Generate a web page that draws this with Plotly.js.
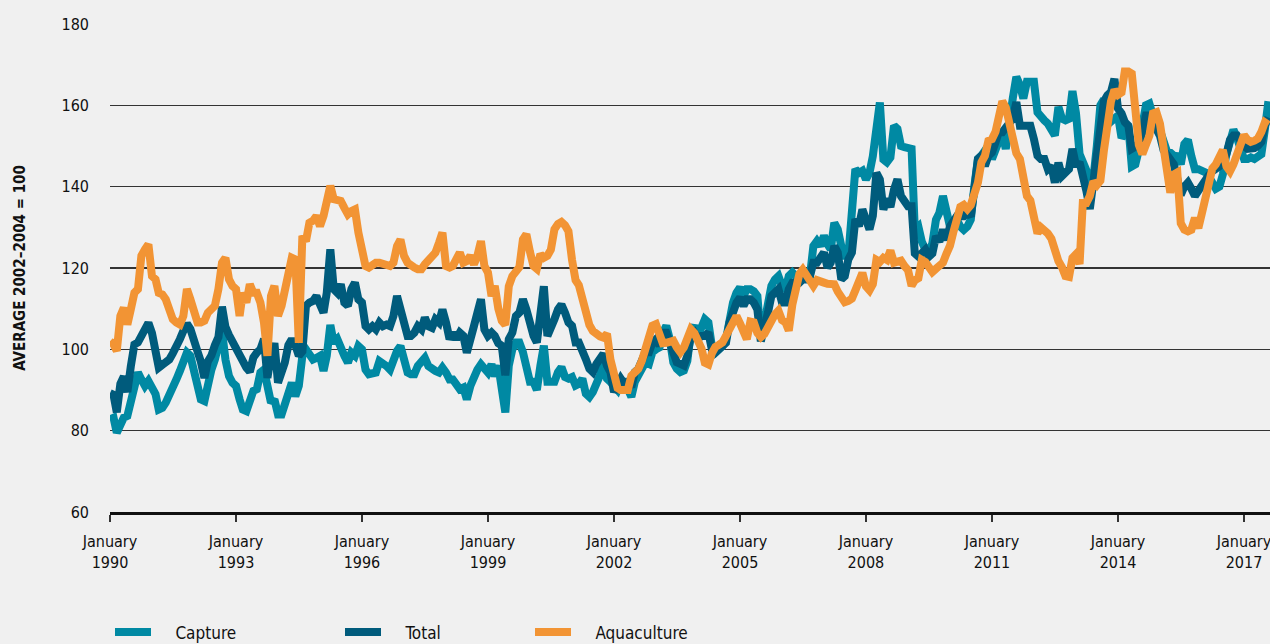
<!DOCTYPE html>
<html>
<head>
<meta charset="utf-8">
<script src="https://cdn.plot.ly/plotly-3.0.1.min.js"></script>
<style>
  html, body { margin: 0; padding: 0; background: #f0f0f0; }
  #plot { width: 1270px; height: 644px; }
</style>
</head>
<body>
<div id="plot"></div>
<script>
// monthly index values, January 1990 to August 2017
var startYear = 1990;

var capture = [
  82.8, 83.2, 79.5, 82, 83.2, 83.6, 86.9, 90.2, 94.3, 92.6, 91, 92.2,          // 1990
  90.2, 89, 85.2, 85.6, 86.9, 88.5, 90.6, 92.6, 94.7, 97.5, 99.2, 98.4,        // 1991
  95, 90.2, 87.7, 87.3, 91.8, 95, 97.5, 100.8, 104.5, 97.5, 93.4, 91.8,        // 1992
  91, 87.7, 85.2, 84.8, 86.9, 89.8, 90.2, 94.3, 95, 90.2, 86.9, 87.7,          // 1993
  84, 84, 86.9, 90.2, 91.8, 88.5, 91, 98.4, 100, 98.8, 97.5, 97.9,             // 1994
  98.4, 94.7, 98.4, 106, 101.6, 102.5, 100, 98.4, 96.7, 99.2, 98.4, 100.8,     // 1995
  100, 95, 93.9, 94.3, 94.3, 97.1, 96.7, 95.9, 95, 97.5, 99.6, 100.8,          // 1996
  97.1, 94.3, 93.9, 93.9, 95.9, 97.1, 97.9, 95.9, 95, 94.7, 94.3, 95.5,        // 1997
  94.3, 92.6, 92.6, 91.4, 90.2, 90.6, 87.7, 91, 93.4, 95, 96.3, 95,            // 1998
  94.3, 96.3, 93.4, 96, 90, 84.5, 96, 100, 101.7, 101.7, 99.3, 96,             // 1999
  92, 92, 90, 96, 100.9, 92, 92, 92, 94.4, 95.6, 93.2, 92.8,                   // 2000
  93.2, 91.1, 91.5, 92.8, 89.1, 88.3, 89.5, 91.1, 93.6, 96.8, 92.8, 92,        // 2001
  91.1, 90, 92, 92, 90.3, 88.3, 92, 93.6, 95.2, 96.8, 96.4, 99.3,              // 2002
  100, 100.5, 104, 105.8, 102.5, 96.8, 95.2, 94.4, 94.8, 97.2, 104.5, 105.8,   // 2003
  103.3, 105.7, 107.4, 106.6, 100.8, 99.2, 100, 100.8, 102.5, 108.2, 111.5, 113.9, // 2004
  115.2, 113.1, 114.8, 114.8, 114.3, 113.1, 102.9, 106.6, 111.5, 115.6, 117.2, 118, // 2005
  115.6, 114.8, 118, 118.9, 118, 116.8, 118, 118, 118, 125.4, 126.6, 125.4,    // 2006
  127.9, 125.8, 124.6, 131.1, 129.5, 125.4, 123, 123, 133.6, 144.3, 143.4, 143.9, // 2007
  141.8, 143.4, 147.5, 156.6, 160.7, 146.7, 146, 147.2, 155, 154.2, 150, 149.7, // 2008
  149.7, 149.3, 129.4, 130.2, 126.5, 124.5, 124, 126.1, 131.9, 133.6, 137.7, 134.4, // 2009
  130.2, 131.1, 131.9, 130.2, 129.4, 130.2, 131.9, 140.2, 146.8, 147.6, 149.3, 150.1, // 2010
  146.8, 149.3, 152.1, 153.4, 149.3, 154.2, 161.7, 167, 165, 161.7, 165.8, 165.8, // 2011
  165.8, 158.3, 157.1, 156.3, 155.5, 153.4, 152.6, 159.6, 156.7, 156.3, 156.7, 163.5, // 2012
  158, 148, 146, 144, 139, 142, 150, 160, 161.5, 157.5, 156, 157,              // 2013
  157.5, 152, 153, 155, 145, 145.5, 149, 155, 160, 160.4, 157.5, 156.5,        // 2014
  154, 152, 148.8, 148.4, 147.6, 147.5, 145.5, 150.5, 151.5, 147.5, 144.3, 144.3, // 2015
  144, 143.5, 142.5, 141, 139.5, 140, 143, 148, 152, 154, 152, 150,            // 2016
  146.8, 146.8, 147.2, 146.8, 147.5, 148, 154, 161                             // 2017
];

var total = [
  89.2, 88.8, 84.5, 91.5, 93.3, 89.5, 95.8, 101.2, 101.7, 103.3, 104.6, 106.5, // 1990
  104, 98.5, 95.5, 96.2, 96.8, 97.5, 99, 100.5, 102.5, 104.5, 106.3, 105,      // 1991
  101.5, 99.5, 97, 93, 97, 98.5, 101, 103, 110.5, 105.5, 103.5, 101.8,         // 1992
  100.5, 98.2, 97.2, 95.5, 94.5, 98, 99.2, 100, 102.5, 93, 98.5, 101.5,        // 1993
  91.8, 94, 96.7, 101, 102.5, 101, 98.4, 99.5, 110.7, 111.5, 111.9, 113.1,     // 1994
  111.5, 109, 113.9, 124.6, 114.8, 113.9, 116, 111.5, 110.7, 114.8, 116.4, 112.3, // 1995
  111.5, 105.7, 104.9, 105.7, 104.9, 106.6, 105.7, 106.1, 105.7, 108.2, 113.1, 109.8, // 1996
  104.9, 103.3, 103.3, 104.1, 105.7, 104.9, 107.8, 105.7, 105.3, 107.4, 106.6, 109.8, // 1997
  106.6, 102.5, 104.1, 102.5, 104.1, 103.3, 99.2, 103.3, 105.7, 109, 112.3, 104.9, // 1998
  103.3, 104.1, 103.3, 101.5, 100.9, 93.6, 102.5, 104.1, 108.2, 109, 112.3, 109.8, // 1999
  105.8, 103.3, 101.7, 109, 115.5, 103.3, 105, 107.4, 109.8, 111, 109, 106.6,  // 2000
  105.8, 101.7, 101.7, 100.1, 97.6, 95.2, 94.4, 96.4, 98, 98.9, 96, 94.4,      // 2001
  89.5, 91.1, 92.8, 91.5, 92, 90.7, 94.4, 95.2, 96.8, 99.3, 99.3, 101.7,       // 2002
  102.5, 100.9, 104.1, 104.1, 101.7, 98.4, 96.8, 96.4, 96, 98.4, 103.3, 104.1, // 2003
  102.5, 103.3, 103.3, 104.1, 100, 99.2, 100, 101.2, 101.6, 106.6, 109.8, 111.5, // 2004
  112.7, 110.7, 112.3, 112.3, 111.5, 109.8, 102, 104.9, 109, 113.1, 113.9, 114.8, // 2005
  111.5, 111.5, 114.8, 116.4, 116.4, 116.4, 117.2, 117.2, 118, 121.3, 121.3, 122.5, // 2006
  123.8, 120.1, 121.3, 125.4, 123.8, 117.2, 118, 122.1, 123.8, 132, 130.3, 134.4, // 2007
  131.1, 129.5, 132.8, 143.4, 141.8, 134.4, 137, 135, 139.3, 141.8, 137.7, 136, // 2008
  135.2, 135.2, 123.6, 122.8, 123.6, 124.5, 122.8, 123.6, 127.8, 126.5, 129.4, 126.9, // 2009
  130.2, 131.9, 132.7, 132.7, 132.7, 133.6, 132.7, 139.3, 146.8, 147.6, 145.1, 147.6, // 2010
  148.4, 150.9, 153.4, 153.4, 154.6, 155.5, 156.7, 160.8, 155, 155, 155, 155,  // 2011
  151.7, 147.6, 146.8, 146.8, 144.3, 145.1, 141, 145.9, 142.6, 143.5, 144.3, 149.3, // 2012
  145.1, 146, 143, 139, 134.5, 141, 148, 156, 161, 162.5, 163.3, 166.5,        // 2013
  159.2, 158, 155.9, 155, 149.3, 149.8, 150.5, 153.4, 157.5, 157.5, 156, 154.2, // 2014
  152.5, 149, 147.6, 146.8, 145.5, 142, 138, 140, 141, 139.5, 137.7, 139,      // 2015
  140.5, 141.8, 142.8, 143.8, 144.3, 145, 146, 148, 151.5, 152.6, 152.6, 151,  // 2016
  150, 149.3, 149.3, 149.5, 150, 151, 155, 157                                 // 2017
];

var aquaculture = [
  102, 101.2, 99.6, 108.2, 110.2, 106.1, 109.8, 113.9, 114.8, 123, 124.6, 125.8, // 1990
  118, 117.2, 113.9, 113.5, 112.3, 109, 107.4, 106.6, 106.1, 108.2, 114.8, 112.3, // 1991
  109, 106.6, 106.6, 107, 109, 109.8, 110.7, 114.8, 121.3, 122.5, 117.2, 115.6, // 1992
  114.8, 108.2, 113.9, 111.5, 116, 113.9, 113.9, 111.5, 106.6, 98.4, 113.1, 115.6, // 1993
  108.2, 110.7, 114.8, 118.9, 122.5, 122.1, 101.6, 127.9, 126.6, 131.1, 131.6, 132.8, // 1994
  130.3, 132.8, 136.1, 140.2, 136.9, 136.5, 136.5, 134.8, 133.2, 134, 134.4, 128.7, // 1995
  124.6, 120.5, 120.1, 120.9, 121.3, 121.3, 120.9, 120.9, 120.5, 121.3, 125.4, 127, // 1996
  123, 121.3, 120.5, 120.1, 119.7, 119.7, 120.9, 122.1, 123, 123.8, 126.2, 128.7, // 1997
  120.5, 120.1, 120.5, 122.1, 123.8, 121.3, 121.7, 123, 120.9, 123, 126.6, 120.5, // 1998
  118.9, 113.1, 115.6, 110, 107, 106, 115.5, 118, 119.6, 120.2, 127, 128.3,    // 1999
  124, 120.5, 119.8, 123.4, 122.5, 123, 124.5, 129.5, 130.8, 131.3, 130.5, 129, // 2000
  122, 117, 115.8, 112, 108.5, 106, 104.5, 103.5, 103.2, 102.9, 103.8, 97.5,   // 2001
  93, 90.5, 90, 90.2, 90, 93.5, 94.3, 95.2, 97.2, 100.5, 103.5, 105.8,         // 2002
  106.2, 103.5, 101.5, 101.6, 101.9, 102.1, 100.5, 99.3, 100.5, 102.5, 104.9, 104, // 2003
  102, 100.2, 96.7, 96.3, 99, 100.6, 101.1, 101.7, 103.3, 105.3, 107.2, 108.2, // 2004
  106.4, 104.2, 102.5, 106.8, 106.6, 104, 103, 103.8, 105.7, 107, 108.6, 109.5, // 2005
  107.2, 106.6, 104.6, 111, 114, 118.5, 119.6, 118, 116.5, 115.6, 117, 116.9,  // 2006
  116.4, 116.1, 116, 116, 114.2, 112.5, 111.6, 111.9, 112.5, 114.5, 117.5, 118.8, // 2007
  115.5, 114.5, 116, 122, 121.5, 122.5, 122, 124.3, 121.3, 121.8, 121.8, 120.5, // 2008
  119.5, 115.6, 117, 117.5, 122, 121.5, 120.5, 119, 119.8, 120.7, 121.3, 123.5, // 2009
  125.5, 129, 132, 135, 135.5, 134.5, 135.5, 138.5, 141, 146, 147.6, 151.3,    // 2010
  151.7, 153.5, 157, 161, 159.5, 155, 150.5, 148.2, 146.8, 143.3, 137.7, 136.6, // 2011
  131, 128.5, 130, 129.5, 128.5, 127.2, 123.5, 121.7, 120.2, 118, 117.8, 122.5, // 2012
  123.4, 121, 136, 136, 137.7, 141.3, 140.4, 141.5, 149, 156, 161, 163.8,      // 2013
  162.6, 163.2, 168.3, 168.3, 167.8, 159, 150.3, 148, 150.5, 152.5, 158, 158.3, // 2014
  155.5, 150, 143, 138.5, 143, 143.5, 131, 129.4, 129, 129.4, 132.3, 129.8,    // 2015
  133.5, 138, 142, 144.5, 145.5, 147.5, 149, 145, 143.8, 145.5, 148.2, 150,    // 2016
  152.7, 151.5, 151, 151.3, 151.8, 153.5, 155.8, 155.2                         // 2017
];

var tickYears = [1990, 1993, 1996, 1999, 2002, 2005, 2008, 2011, 2014, 2017];

// month dates for the x axis
var months = capture.map(function (v, i) {
  var y = startYear + Math.floor(i / 12);
  var m = (i % 12) + 1;
  return y + "-" + (m < 10 ? "0" + m : m) + "-01";
});

var font = "Liberation Sans Narrow, DejaVu Sans Condensed, Arial Narrow, sans-serif";
var gap = "\u00a0\u00a0\u00a0\u00a0";  // pushes legend text away from the swatch

var trace1 = {
  x: months, y: capture, name: gap + "Capture", type: "scatter", mode: "lines",
  line: {color: "#0089a3", width: 8}, legend: "legend"
};
var trace2 = {
  x: months, y: total, name: gap + "Total", type: "scatter", mode: "lines",
  line: {color: "#005b7c", width: 8}, legend: "legend2"
};
var trace3 = {
  x: months, y: aquaculture, name: gap + "Aquaculture", type: "scatter", mode: "lines",
  line: {color: "#f29434", width: 8}, legend: "legend3"
};

var legendBase = {
  orientation: "h", yref: "container", y: 0.018, yanchor: "middle",
  xanchor: "left", bgcolor: "rgba(0,0,0,0)", itemwidth: 36,
  font: {family: font, size: 17, color: "#111"}
};

var layout = {
  width: 1270, height: 644,
  margin: {l: 110, r: 0, t: 24, b: 132},
  paper_bgcolor: "#f0f0f0",
  plot_bgcolor: "#f0f0f0",
  font: {family: font, color: "#111"},
  showlegend: true,
  xaxis: {
    type: "date",
    range: ["1990-01-01", "2017-08-15"],
    tickvals: tickYears.map(function (y) { return y + "-01-01"; }),
    ticktext: tickYears.map(function (y) { return "January<br>" + y; }),
    ticks: "outside", ticklen: 7, tickwidth: 1.5, tickcolor: "#333",
    showline: true, linecolor: "#111", linewidth: 3,
    showgrid: false, zeroline: false, automargin: false,
    ticklabelstandoff: 6, ticklabeloverflow: "allow",
    tickfont: {family: font, size: 16, color: "#111"}
  },
  yaxis: {
    range: [60, 180], dtick: 20,
    showgrid: true, gridcolor: "#333", gridwidth: 1.2,
    zeroline: false, showline: false, ticks: "", automargin: false,
    ticklabelstandoff: 20,
    tickfont: {family: font, size: 16, color: "#111"},
    title: {
      text: "AVERAGE 2002\u20132004 = 100",
      standoff: 32,
      font: {family: font, size: 15, weight: "bold", color: "#111"}
    }
  },
  legend: Object.assign({}, legendBase, {xref: "container", x: 110 / 1270}),
  legend2: Object.assign({}, legendBase, {xref: "container", x: 340 / 1270}),
  legend3: Object.assign({}, legendBase, {xref: "container", x: 530 / 1270})
};

Plotly.newPlot("plot", [trace1, trace2, trace3], layout, {displayModeBar: false, staticPlot: true});
</script>
</body>
</html>
